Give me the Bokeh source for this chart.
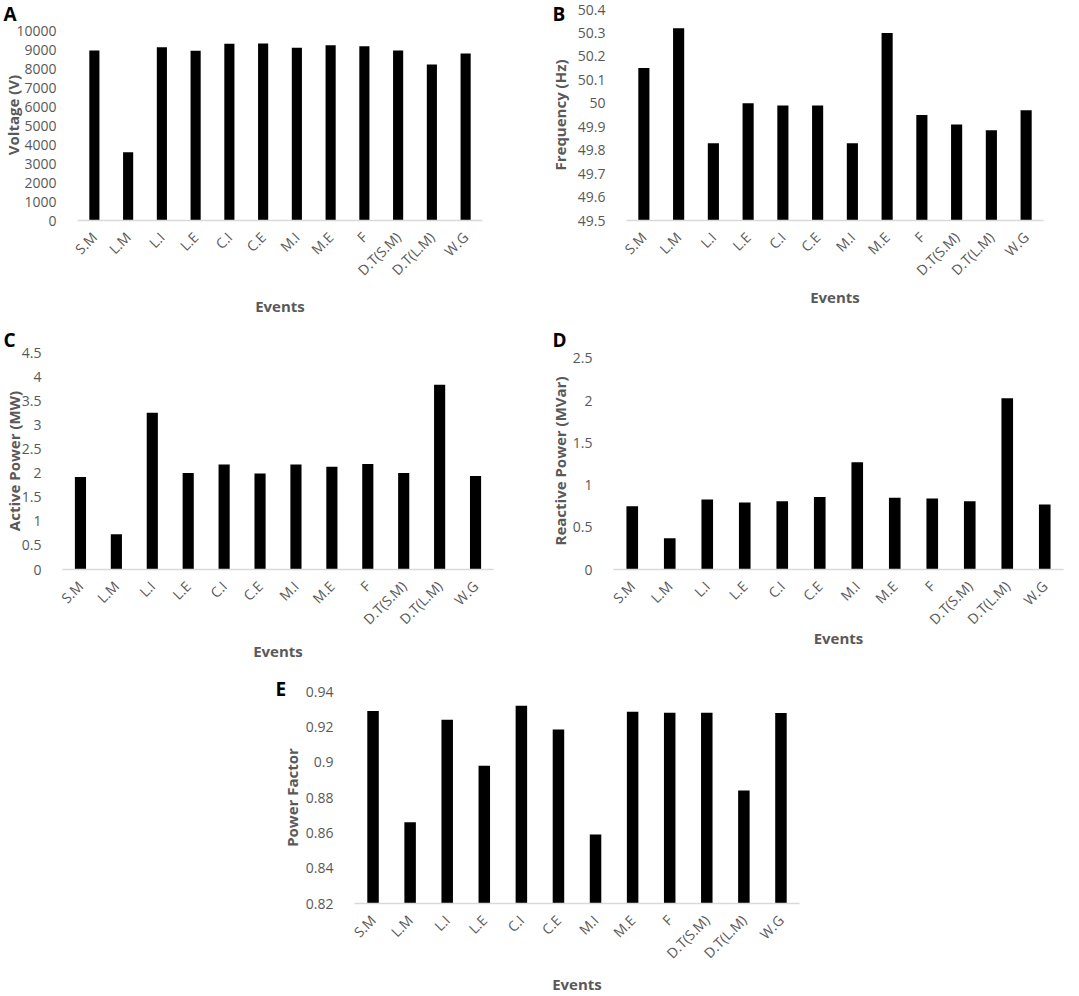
from bokeh.plotting import figure
from bokeh.models import Range1d, FactorRange, Spacer, FixedTicker, CustomJSTickFormatter
from bokeh.layouts import column, row
from bokeh.embed import file_html
from bokeh.resources import INLINE
from math import pi

events = ["S.M", "L.M", "L.I", "L.E", "C.I", "C.E", "M.I", "M.E", "F", "D.T(S.M)", "D.T(L.M)", "W.G"]
voltage = [8950, 3590, 9120, 8930, 9300, 9310, 9090, 9230, 9170, 8950, 8210, 8790]
frequency = [50.15, 50.32, 49.83, 50.00, 49.99, 49.99, 49.83, 50.30, 49.95, 49.91, 49.885, 49.97]
active_power = [1.92, 0.73, 3.25, 2.00, 2.18, 1.99, 2.18, 2.13, 2.19, 2.00, 3.83, 1.94]
reactive_power = [0.75, 0.37, 0.83, 0.795, 0.81, 0.86, 1.27, 0.85, 0.84, 0.81, 2.03, 0.77]
power_factor = [0.929, 0.866, 0.924, 0.898, 0.932, 0.9185, 0.859, 0.9285, 0.928, 0.928, 0.884, 0.9278]

voltage_ticks = [0, 1000, 2000, 3000, 4000, 5000, 6000, 7000, 8000, 9000, 10000]
frequency_ticks = [49.5, 49.6, 49.7, 49.8, 49.9, 50.0, 50.1, 50.2, 50.3, 50.4]
active_ticks = [0, 0.5, 1, 1.5, 2, 2.5, 3, 3.5, 4, 4.5]
reactive_ticks = [0, 0.5, 1, 1.5, 2, 2.5]
pf_ticks = [0.82, 0.84, 0.86, 0.88, 0.90, 0.92, 0.94]

FONT = "Open Sans"
GRAY = "#595959"


def panel(letter, values, ticks, ylabel, w, h, borders, frame_h, top_gap, bar_w,
          ylab_standoff, xlab_standoff, letter_offset, letter_standoff, letter_valign):
    l, r, t, b = borders
    lo, hi = ticks[0], ticks[-1]
    # the frame is taller than the tick span by top_gap pixels (empty room above the top tick)
    top = hi + (hi - lo) * top_gap / (frame_h - top_gap)
    p = figure(width=w, height=h, x_range=FactorRange(factors=events),
               y_range=Range1d(lo, top),
               output_backend="svg", toolbar_location=None, tools="")
    p.min_border_left = l
    p.min_border_right = r
    p.min_border_top = t
    p.min_border_bottom = b
    p.outline_line_color = None
    p.xgrid.visible = False
    p.ygrid.visible = False
    p.vbar(x=events, top=values, bottom=lo, width=bar_w, fill_color="black", line_color=None)

    ya = p.yaxis[0]
    ya.ticker = FixedTicker(ticks=ticks)
    ya.formatter = CustomJSTickFormatter(code="return String(+tick.toFixed(4));")
    ya.axis_line_color = None
    ya.major_tick_line_color = None
    ya.minor_tick_line_color = None
    ya.major_label_standoff = 15
    ya.major_label_text_font = FONT
    ya.major_label_text_font_size = "14px"
    ya.major_label_text_color = GRAY
    ya.axis_label = ylabel
    ya.axis_label_text_font = FONT
    ya.axis_label_text_font_style = "bold"
    ya.axis_label_text_font_size = "15px"
    ya.axis_label_text_color = GRAY
    ya.axis_label_standoff = ylab_standoff

    xa = p.xaxis[0]
    xa.axis_line_color = "#d9d9d9"
    xa.axis_line_width = 1.5
    xa.major_tick_line_color = None
    xa.minor_tick_line_color = None
    xa.major_label_orientation = pi / 4
    xa.major_label_standoff = 8
    xa.major_label_text_font = FONT
    xa.major_label_text_font_size = "14px"
    xa.major_label_text_color = GRAY
    xa.axis_label = "Events"
    xa.axis_label_text_font = FONT
    xa.axis_label_text_font_style = "bold"
    xa.axis_label_text_font_size = "15px"
    xa.axis_label_text_color = GRAY
    xa.axis_label_standoff = xlab_standoff

    p.title.text = letter
    p.title.align = "left"
    p.title.offset = letter_offset
    p.title.standoff = letter_standoff
    p.title.vertical_align = letter_valign
    p.title.text_font = FONT
    p.title.text_font_style = "bold"
    p.title.text_font_size = "19px"
    p.title.text_color = "black"
    return p


pA = panel("A", voltage, voltage_ticks, "Voltage (V)", 540, 325, (77, 58, 9, 105), 211, 21, 0.30,
           -10, 7, -74, -34, "bottom")
pB = panel("B", frequency, frequency_ticks, "Frequency (Hz)", 539, 325, (86, 36, 9, 105), 211, 0, 0.32,
           5, -2, -74, -34, "bottom")
pC = panel("C", active_power, active_ticks, "Active Power (MW)", 540, 338, (62, 47, 27, 93), 218, 0, 0.31,
           -5, 3, -59, -4, "top")
pD = panel("D", reactive_power, reactive_ticks, "Reactive Power (MVar)", 539, 338, (73, 16, 27, 93), 218, 6, 0.31,
           0, -10, -61, -4, "top")
pE = panel("E", power_factor, pf_ticks, "Power Factor", 540, 333, (84, 11, 28, 89), 216, 0, 0.31,
           1, 2, -79, -24, "top")

layout = column(row(pA, pB), row(pC, pD), row(Spacer(width=270, height=333), pE))
layout.spacing = 0

open("out.html", "w").write(file_html(layout, INLINE))
